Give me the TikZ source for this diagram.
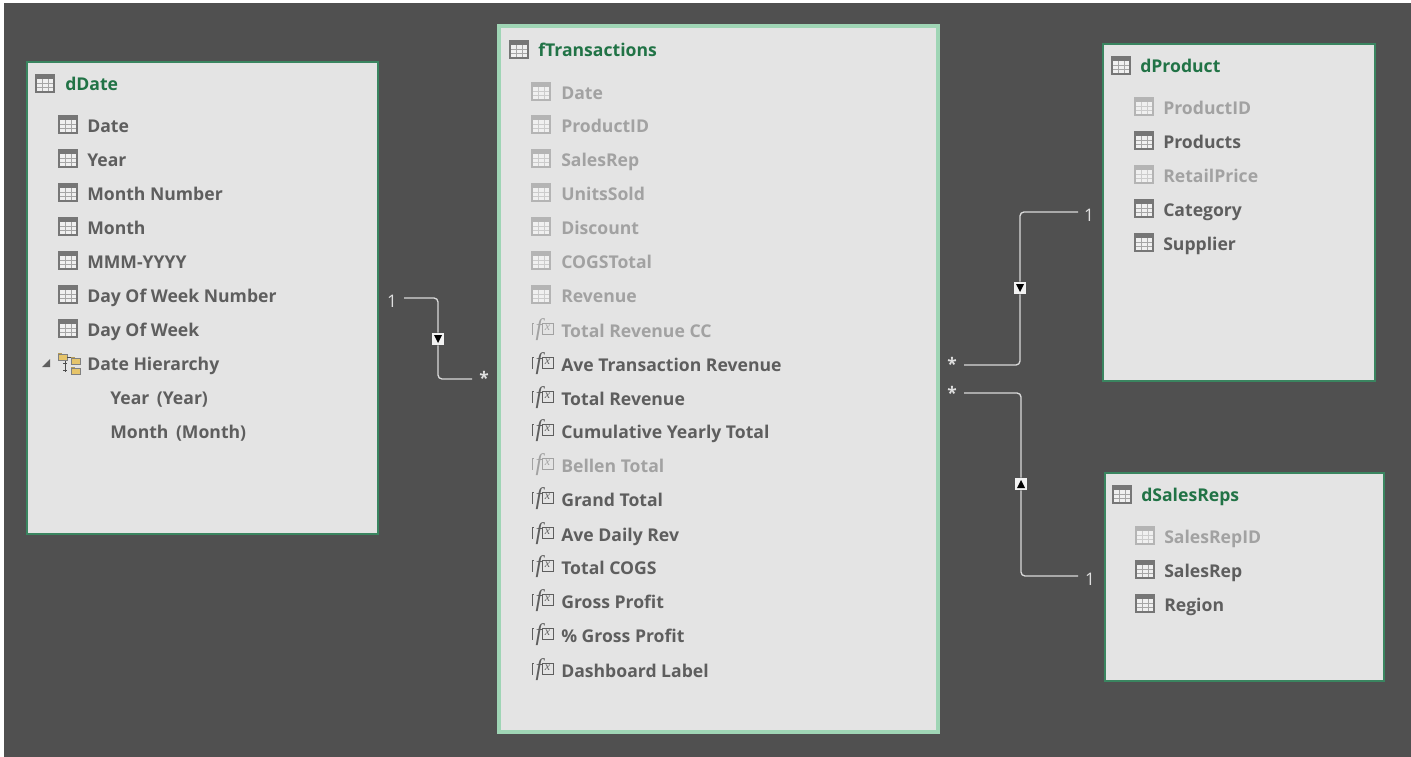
\documentclass[tikz,border=0pt]{standalone}
\usepackage{fontspec}
\setmainfont{Open Sans}
\newfontfamily\fxfont{Liberation Serif}
\usepackage{xcolor}
\usepackage{tikz}
\usetikzlibrary{arrows.meta, positioning, calc}

\definecolor{canvasgray}{HTML}{505050}
\definecolor{panelgray}{HTML}{E4E4E4}
\definecolor{headgreen}{HTML}{217346}
\definecolor{edgegreen}{HTML}{3A8560}
\definecolor{factgreen}{HTML}{9FD5B5}
\definecolor{fieldgray}{HTML}{5E5E5E}
\definecolor{hidegray}{HTML}{A2A2A2}
\definecolor{iconon}{HTML}{767676}
\definecolor{iconoff}{HTML}{B4B4B4}
\definecolor{foldergold}{HTML}{E6C469}

\tikzset{
  panel/.style={fill=panelgray, draw=edgegreen, line width=0.9pt},
  factpanel/.style={fill=panelgray, draw=factgreen, line width=3pt},
  headtxt/.style={anchor=west, inner sep=0pt, text height=11.5pt, text depth=2.5pt, text=headgreen, font=\bfseries\fontsize{13.2}{16}\selectfont},
  fieldtxt/.style={anchor=west, inner sep=0pt, text height=13pt, text depth=2.5pt, font=\bfseries\fontsize{13.2}{16}\selectfont},
  tblon/.style={text=fieldgray},
  tbloff/.style={text=hidegray},
  fxon/.style={text=fieldgray},
  fxoff/.style={text=hidegray},
  cardtxt/.style={text=white!88!black, inner sep=0pt, font=\fontsize{13}{15}\selectfont},
  relline/.style={draw=white!85!black, line width=1pt, rounded corners=3pt},
  markbox/.style={fill=white!95!black, minimum size=9pt, inner sep=0pt},
  pics/tblicon/.style={code={
    \fill[white!94!black] (0,-9) rectangle (18,8);
    \fill[#1] (0,-9) rectangle (18,-5);
    \draw[#1, draw opacity=0.6, line width=0.5pt] (6,-5) -- (6,8) (12,-5) -- (12,8) (0,-0.5) -- (18,-0.5) (0,3.5) -- (18,3.5);
    \draw[#1, line width=0.9pt] (0,-9) rectangle (18,8);
  }},
  pics/fxicon/.style={code={
    \draw[#1, line width=0.7pt] (10,-7) rectangle (21,4);
    \node[text=#1, inner sep=0pt, font=\fxfont\itshape\fontsize{9}{9}\selectfont] (fxx) at (15.5,-2) {x};
    \node[text=#1, inner sep=0pt, font=\fxfont\itshape\fontsize{18}{18}\selectfont] (fxf) at (7,0) {f};
    \draw[#1, line width=0.6pt] (1.5,-7) -- (0.5,-7) -- (0.5,5);
  }},
  pics/tblon/.style={code={\pic {tblicon=iconon};}},
  pics/tbloff/.style={code={\pic {tblicon=iconoff};}},
  pics/fxon/.style={code={\pic {fxicon=fieldgray};}},
  pics/fxoff/.style={code={\pic {fxicon=hidegray};}},
  pics/foldericon/.style={code={
    \fill[#1!80!black] (0,-1.5) rectangle (4,0);
    \fill[#1] (0,0) rectangle (9,6);
    \draw[gray, line width=0.4pt] (0,0) rectangle (9,6);
  }}
}

\begin{document}
\begin{tikzpicture}[x=0.75pt, y=-0.75pt]
  \useasboundingbox (0,0) rectangle (1411,757);
  % canvas
  \fill[canvasgray] (4,3) rectangle (1411,757);
  % panels
  \draw[panel] (27,62) rectangle (378,534);
  \draw[factpanel] (499,26) rectangle (938,732);
  \draw[panel] (1103,44) rectangle (1375,381);
  \draw[panel] (1105,473) rectangle (1384,681);
  % dDate
  \pic at (36,84) {tblon};
  \node[headtxt] (dateHead) at (65,84) {dDate};
  \foreach \rowy/\rowtxt/\rowkind in {125/Date/tblon, 159/Year/tblon, 193/Month Number/tblon,
      227/Month/tblon, 261/MMM-YYYY/tblon, 295/Day Of Week Number/tblon, 329/Day Of Week/tblon} {
    \pic at (59,\rowy) {\rowkind};
    \node[fieldtxt, \rowkind] (date\rowy) at (87,\rowy) {\rowtxt};
  }
  % date hierarchy
  \fill[fieldgray] (42,367) -- (50,367) -- (50,359) -- cycle;
  \pic at (58,354) {foldericon=foldergold};
  \pic at (71,358) {foldericon=foldergold};
  \pic at (71,368) {foldericon=foldergold};
  \draw[black!70, line width=0.5pt] (67,357) -- (71,357) (65,361) -- (65,372) (63,363) -- (67,363) (63,370) -- (67,370);
  \node[fieldtxt, tblon] (date363) at (87,363) {Date Hierarchy};
  \node[fieldtxt, tblon] (date397) at (110,397) {Year\, (Year)};
  \node[fieldtxt, tblon] (date431) at (110,431) {Month\, (Month)};
  % fTransactions
  \pic at (510,50) {tblon};
  \node[headtxt] (factHead) at (538,50) {fTransactions};
  \foreach \rowy/\rowtxt/\rowkind in {92/Date/tbloff, 125/ProductID/tbloff, 159/SalesRep/tbloff,
      193/UnitsSold/tbloff, 227/Discount/tbloff, 261/COGSTotal/tbloff, 295/Revenue/tbloff,
      330/Total Revenue CC/fxoff, 364/Ave Transaction Revenue/fxon, 398/Total Revenue/fxon,
      431/Cumulative Yearly Total/fxon, 465/Bellen Total/fxoff, 499/Grand Total/fxon,
      534/Ave Daily Rev/fxon, 567/Total COGS/fxon, 601/Gross Profit/fxon,
      635/\% Gross Profit/fxon, 670/Dashboard Label/fxon} {
    \pic at (532,\rowy) {\rowkind};
    \node[fieldtxt, \rowkind] (fact\rowy) at (561,\rowy) {\rowtxt};
  }
  % dProduct
  \pic at (1112,66) {tblon};
  \node[headtxt] (prodHead) at (1140,66) {dProduct};
  \foreach \rowy/\rowtxt/\rowkind in {107/ProductID/tbloff, 141/Products/tblon, 175/RetailPrice/tbloff,
      209/Category/tblon, 243/Supplier/tblon} {
    \pic at (1135,\rowy) {\rowkind};
    \node[fieldtxt, \rowkind] (prod\rowy) at (1163,\rowy) {\rowtxt};
  }
  % dSalesReps
  \pic at (1113,495) {tblon};
  \node[headtxt] (repHead) at (1141,495) {dSalesReps};
  \foreach \rowy/\rowtxt/\rowkind in {536/SalesRepID/tbloff, 570/SalesRep/tblon, 604/Region/tblon} {
    \pic at (1136,\rowy) {\rowkind};
    \node[fieldtxt, \rowkind] (rep\rowy) at (1164,\rowy) {\rowtxt};
  }
  % cardinalities
  \node[cardtxt] (dateOne) at (392,301) {1};
  \node[cardtxt] (factManyA) at (484,378) {\bfseries *};
  \node[cardtxt] (factManyB) at (952,364) {\bfseries *};
  \node[cardtxt] (prodOne) at (1089,215) {1};
  \node[cardtxt] (factManyC) at (952,393) {\bfseries *};
  \node[cardtxt] (repOne) at (1090,579) {1};
  % filter markers
  \node[markbox] (dateMark) at (438,339) {};
  \node[markbox] (prodMark) at (1020,288) {};
  \node[markbox] (repMark) at (1021,484) {};
  \fill[black] (434,335) -- (442,335) -- (438,343) -- cycle;
  \fill[black] (1016,284) -- (1024,284) -- (1020,292) -- cycle;
  \fill[black] (1017,488) -- (1025,488) -- (1021,480) -- cycle;
  % relationships
  \coordinate (dateEnd) at (404,298);
  \coordinate (factEndA) at (472,379);
  \coordinate (factEndB) at (964,365);
  \coordinate (prodEnd) at (1078,212);
  \coordinate (factEndC) at (964,393);
  \coordinate (repEnd) at (1078,576);
  \draw[relline] (dateEnd) -| (dateMark.north);
  \draw[relline] (dateMark.south) |- (factEndA);
  \draw[relline] (factEndB) -| (prodMark.south);
  \draw[relline] (prodMark.north) |- (prodEnd);
  \draw[relline] (factEndC) -| (repMark.north);
  \draw[relline] (repMark.south) |- (repEnd);
\end{tikzpicture}
\end{document}
